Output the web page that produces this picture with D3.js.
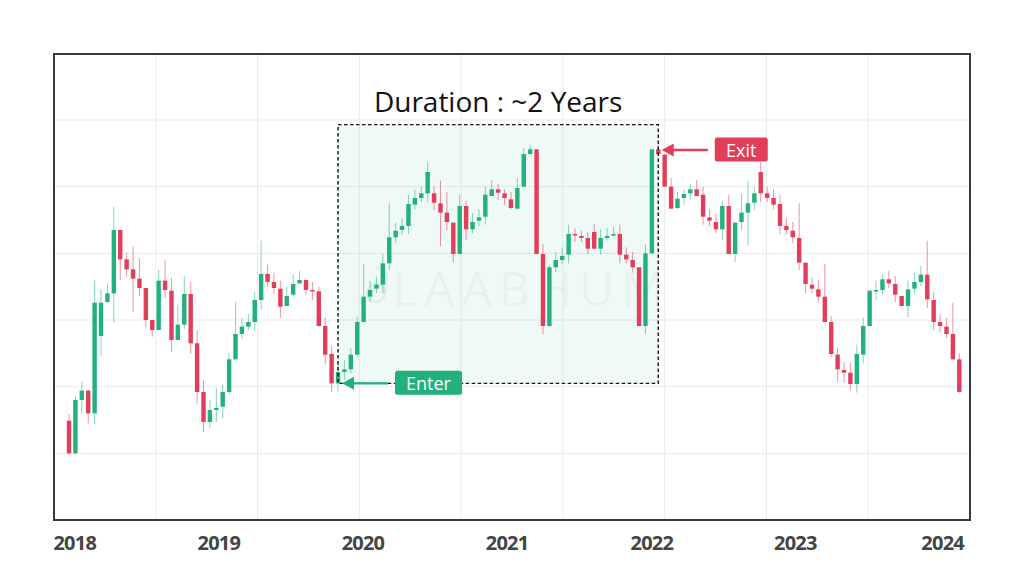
<!DOCTYPE html>
<html>
<head>
<meta charset="utf-8">
<script src="https://cdn.jsdelivr.net/npm/d3@7"></script>
<style>
  html, body { margin: 0; padding: 0; background: #fff; }
  svg { display: block; font-family: "Open Sans", "Noto Sans", sans-serif; }
</style>
</head>
<body>
<svg id="chart"></svg>
<script>
"use strict";

// candle values, one per period
var opens = [149,100,180,194,160,276,327,340,435,391,376,362,348,300,285,359,344,270,293,339,
  265,192,147,165,170,192,241,279,290,297,330,369,357,347,321,338,355,360,345,343,
  291,249,205,222,226,248,297,335,347,353,385,424,435,441,473,483,490,490,475,461,
  446,399,471,436,449,455,486,496,490,481,467,500,549,556,399,291,379,390,398,429,
  426,423,432,407,423,427,429,398,390,379,291,400,556,548,500,468,483,490,496,488,
  454,447,436,471,399,447,461,476,522,490,483,474,441,434,423,386,353,346,335,297,
  248,225,221,204,248,291,344,345,361,354,336,321,347,357,368,330,297,290,279,241];
var highs = [159,186,207,195,360,346,355,470,435,401,410,393,348,300,375,390,363,323,366,357,
  284,210,180,198,203,251,327,303,309,342,419,383,371,359,350,368,374,361,357,350,
  304,261,235,240,258,305,384,359,365,399,475,446,453,488,496,500,537,500,509,492,
  446,488,479,460,466,500,510,504,496,492,513,558,563,556,414,383,402,409,443,438,
  434,432,444,436,438,440,443,409,402,379,414,556,563,549,513,492,496,504,510,500,
  466,460,479,488,446,490,509,500,537,500,496,488,453,447,475,386,364,360,384,306,
  258,237,236,263,304,344,359,368,374,366,336,359,371,381,419,342,309,303,326,250];
var lows = [98,99,159,145,144,246,326,297,360,365,312,336,289,275,285,333,252,270,286,249,
  174,132,138,147,153,190,241,271,285,284,316,350,340,303,321,336,353,338,330,290,
  234,192,192,210,220,245,297,327,340,340,375,415,428,429,466,477,477,465,411,435,
  387,399,420,430,441,443,486,480,473,466,467,500,548,399,279,290,372,384,385,417,
  417,398,407,398,419,425,385,385,371,290,279,400,548,500,467,466,473,480,486,443,
  441,430,420,399,387,435,411,465,477,477,466,429,428,415,375,340,340,327,297,245,
  207,206,195,191,235,291,330,338,348,327,320,304,340,351,318,285,282,273,241,190];
var closes = [100,180,194,160,326,326,340,435,391,376,362,348,300,285,359,345,270,293,339,265,
  192,147,165,168,192,241,279,290,297,330,369,357,348,320,336,354,360,345,343,291,
  248,205,222,226,248,297,335,345,353,385,424,434,441,474,483,490,522,476,461,447,
  399,471,436,447,454,488,496,491,483,468,498,549,556,399,291,379,390,396,429,427,
  423,407,407,423,426,429,398,391,379,291,400,556,549,500,467,482,489,496,486,455,
  449,436,471,399,446,461,475,490,490,483,473,441,435,424,386,354,347,335,297,249,
  226,221,204,249,291,344,345,361,355,338,321,346,357,368,331,297,291,279,241,192];

// year labels along the bottom and the candle index each one sits under
var yearLabels = ["2018", "2019", "2020", "2021", "2022", "2023", "2024"];
var yearTickIndex = [0.9, 23.4, 45.9, 68.4, 91, 113.4, 136.4];

// price gridlines
var priceTicks = [100, 200, 300, 400, 500, 600];

// trade window
var enterIndex = 42, exitIndex = 92;
var enterPrice = 205, exitPrice = 555;
var windowTopPrice = 593;
var titleText = "Duration : ~2 Years";

var GREEN = "#22b07d", RED = "#e23d5a";

var config = {
  width: 1024,
  height: 576,
  plot: {x: 54, y: 54, width: 916, height: 466},
  candleWidth: 4.4
};

var candles = opens.map(function(o, i) {
  return {i: i, o: o, h: highs[i], l: lows[i], c: closes[i]};
});

var svg = d3.select("#chart")
  .attr("width", config.width)
  .attr("height", config.height);

var p = config.plot;

var xScale = d3.scaleLinear()
  .domain([0, candles.length - 1])
  .range([p.x + 15, p.x + p.width - 10.7]);

var yScale = d3.scaleLinear()
  .domain([0, 699])
  .range([p.y + p.height, p.y]);

// background grid
var grid = svg.append("g").attr("class", "grid");
grid.selectAll(".vgrid")
  .data(d3.range(1, 9))
  .enter().append("line")
  .attr("x1", function(d) { return p.x + d * p.width / 9; })
  .attr("x2", function(d) { return p.x + d * p.width / 9; })
  .attr("y1", p.y)
  .attr("y2", p.y + p.height)
  .attr("stroke", "#ebebeb")
  .attr("stroke-width", 1);
grid.selectAll(".hgrid")
  .data(priceTicks)
  .enter().append("line")
  .attr("x1", p.x)
  .attr("x2", p.x + p.width)
  .attr("y1", function(d) { return yScale(d); })
  .attr("y2", function(d) { return yScale(d); })
  .attr("stroke", "#ebebeb")
  .attr("stroke-width", 1);

// shaded holding window
var box = {
  x1: xScale(enterIndex),
  x2: xScale(exitIndex),
  y1: yScale(windowTopPrice),
  y2: yScale(enterPrice)
};
svg.append("rect")
  .attr("x", box.x1)
  .attr("y", box.y1)
  .attr("width", box.x2 - box.x1)
  .attr("height", box.y2 - box.y1)
  .attr("fill", GREEN)
  .attr("fill-opacity", 0.07);

// faint watermark
var wm = svg.append("g")
  .attr("fill", "none")
  .attr("stroke", "#000")
  .attr("stroke-opacity", 0.045)
  .attr("stroke-width", 3);
wm.append("circle").attr("cx", 376).attr("cy", 293).attr("r", 9);
wm.append("path").attr("d", "M385,293 L385,275 Q385,266 376,268");
svg.append("text")
  .attr("x", 392)
  .attr("y", 287)
  .attr("dominant-baseline", "central")
  .attr("font-size", 48)
  .attr("letter-spacing", 7)
  .attr("fill", "#000")
  .attr("fill-opacity", 0.045)
  .text("LAABHUM");

// candles
var candleG = svg.append("g").attr("class", "candles");
var cg = candleG.selectAll("g")
  .data(candles)
  .enter().append("g")
  .attr("transform", function(d) { return "translate(" + xScale(d.i) + ",0)"; });

cg.append("line")
  .attr("y1", function(d) { return yScale(d.h); })
  .attr("y2", function(d) { return yScale(d.l); })
  .attr("stroke", function(d) { return d.c >= d.o ? GREEN : RED; })
  .attr("stroke-opacity", 0.55)
  .attr("stroke-width", 1);

cg.append("rect")
  .attr("x", -config.candleWidth / 2)
  .attr("width", config.candleWidth)
  .attr("y", function(d) { return yScale(Math.max(d.o, d.c)); })
  .attr("height", function(d) { return Math.max(1.5, Math.abs(yScale(d.o) - yScale(d.c))); })
  .attr("fill", function(d) { return d.c >= d.o ? GREEN : RED; });

// dashed outline of the window (drawn over candles)
svg.append("rect")
  .attr("x", box.x1)
  .attr("y", box.y1)
  .attr("width", box.x2 - box.x1)
  .attr("height", box.y2 - box.y1)
  .attr("fill", "none")
  .attr("stroke", "#111")
  .attr("stroke-width", 1.4)
  .attr("stroke-dasharray", "3.5,2.5");

svg.append("text")
  .attr("x", (box.x1 + box.x2) / 2)
  .attr("y", box.y1 - 13)
  .attr("text-anchor", "middle")
  .attr("font-size", 28)
  .attr("fill", "#111")
  .text(titleText);

// arrows with labels
function addCallout(idx, price, text, color, gap, lineLen, boxW) {
  var ax = xScale(idx) + gap;
  var ay = yScale(price);
  svg.append("line")
    .attr("x1", ax + 8)
    .attr("x2", ax + lineLen)
    .attr("y1", ay)
    .attr("y2", ay)
    .attr("stroke", color)
    .attr("stroke-width", 2.4);
  svg.append("path")
    .attr("d", "M" + ax + "," + ay + "l12,-6.5l0,13z")
    .attr("fill", color);
  var bx = ax + lineLen + 7;
  svg.append("rect")
    .attr("x", bx)
    .attr("y", ay - 12.5)
    .attr("width", boxW)
    .attr("height", 24)
    .attr("rx", 2.5)
    .attr("fill", color);
  svg.append("text")
    .attr("x", bx + boxW / 2)
    .attr("y", ay)
    .attr("text-anchor", "middle")
    .attr("dominant-baseline", "central")
    .attr("font-size", 18)
    .attr("fill", "#fff")
    .text(text);
}

addCallout(enterIndex, enterPrice, "Enter", GREEN, 4, 46, 67);
addCallout(exitIndex, exitPrice, "Exit", RED, 3.5, 46, 53);

// frame
svg.append("rect")
  .attr("x", p.x)
  .attr("y", p.y)
  .attr("width", p.width)
  .attr("height", p.height)
  .attr("fill", "none")
  .attr("stroke", "#3a3a3a")
  .attr("stroke-width", 2);

// year labels
svg.append("g").selectAll("text")
  .data(yearLabels)
  .enter().append("text")
  .attr("x", function(d, i) { return xScale(yearTickIndex[i]); })
  .attr("y", 550)
  .attr("text-anchor", "middle")
  .attr("font-size", 20)
  .attr("font-weight", 700)
  .attr("letter-spacing", -0.8)
  .attr("fill", "#444")
  .text(function(d) { return d; });
</script>
</body>
</html>
